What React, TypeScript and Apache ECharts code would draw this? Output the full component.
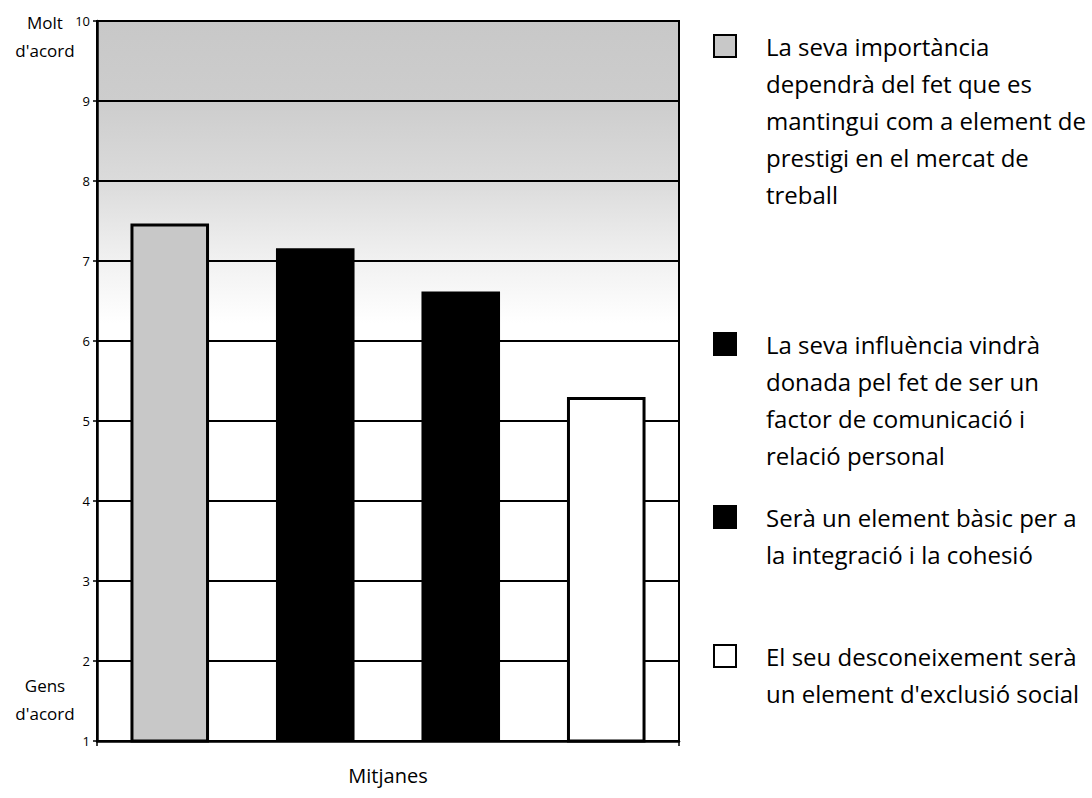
import React, { useEffect, useRef } from "react";
import * as echarts from "echarts";

const categories = [
  "La seva importància dependrà del fet que es mantingui com a element de prestigi en el mercat de treball",
  "La seva influència vindrà donada pel fet de ser un factor de comunicació i relació personal",
  "Serà un element bàsic per a la integració i la cohesió",
  "El seu desconeixement serà un element d'exclusió social",
];
const legendLines = [
  ["La seva importància", "dependrà del fet que es", "mantingui com a element de", "prestigi en el mercat de", "treball"],
  ["La seva influència vindrà", "donada pel fet de ser un", "factor de comunicació i", "relació personal"],
  ["Serà un element bàsic per a", "la integració i la cohesió"],
  ["El seu desconeixement serà", "un element d'exclusió social"],
];
const values = [7.47, 7.16, 6.62, 5.3];
const yTicks = [1, 2, 3, 4, 5, 6, 7, 8, 9, 10];
const xAxisTitle = "Mitjanes";
const topLabel = ["Molt", "d'acord"];
const bottomLabel = ["Gens", "d'acord"];

const FONT = "'Open Sans', 'DejaVu Sans', sans-serif";
const fills = ["#c8c8c8", "#000000", "#000000", "#ffffff"];
const borders = [3, 0, 0, 3];
const legendFirstLineCenters = [45, 343, 516, 655];
const LINE_H = 37;
const SQ = 22;

export default function App() {
  const ref = useRef<HTMLDivElement>(null);
  useEffect(() => {
    if (!ref.current) return;
    const chart = echarts.init(ref.current, undefined, { renderer: "svg" });

    const series = categories.map((name, i) => ({
      type: "bar",
      name,
      stack: "all",
      barWidth: "54%",
      data: values.map((v, j) => (j === i ? v : "-")),
      itemStyle: {
        color: fills[i],
        borderColor: "#000",
        borderWidth: borders[i],
      },
      emphasis: { disabled: true },
    }));

    const legends = categories.map((name, i) => {
      const n = legendLines[i].length;
      const H = LINE_H * n;
      const s0 = LINE_H / 2 - SQ / 2;
      const iconPath = `path://M0,0L0,0M0,${s0}H${SQ}V${s0 + SQ}H0ZM0,${H}L0,${H}`;
      return {
        data: [{ name, icon: iconPath }],
        orient: "vertical",
        left: 713,
        top: legendFirstLineCenters[i] - LINE_H / 2,
        padding: 0,
        itemWidth: SQ,
        itemHeight: H,
        selectedMode: false,
        itemStyle: { borderColor: "#000", borderWidth: 2 },
        formatter: () => legendLines[i].join("\n"),
        textStyle: {
          fontFamily: FONT,
          fontSize: 24,
          lineHeight: LINE_H,
          color: "#000",
          padding: [0, 0, 0, 25],
        },
      };
    });

    const sideText = (lines: string[], y: number) => ({
      type: "text",
      x: 45,
      y,
      style: {
        text: lines.join("\n"),
        fontFamily: FONT,
        fontSize: 17,
        lineHeight: 28,
        fill: "#000",
        align: "center",
        verticalAlign: "top",
      },
    });

    chart.setOption({
      animation: false,
      backgroundColor: "#fff",
      grid: {
        left: 97,
        top: 21,
        width: 582,
        height: 720,
        show: true,
        borderColor: "#000",
        borderWidth: 2,
        backgroundColor: {
          type: "linear",
          x: 0,
          y: 0,
          x2: 0,
          y2: 1,
          colorStops: [
            { offset: 0, color: "#c8c8c8" },
            { offset: 0.111, color: "#cdcdcd" },
            { offset: 0.222, color: "#dbdbdb" },
            { offset: 0.333, color: "#f1f1f1" },
            { offset: 0.42, color: "#ffffff" },
            { offset: 1, color: "#ffffff" },
          ],
        },
      },
      legend: legends,
      xAxis: {
        type: "category",
        data: categories,
        boundaryGap: true,
        name: xAxisTitle,
        nameLocation: "middle",
        nameGap: 24,
        nameTextStyle: { fontFamily: FONT, fontSize: 20, color: "#000" },
        axisLine: { show: true, lineStyle: { color: "#000", width: 2.5 } },
        axisTick: { show: true, length: 5, lineStyle: { color: "#000", width: 1.5 } },
        axisLabel: { show: false },
        splitLine: { show: false },
      },
      yAxis: {
        type: "value",
        min: yTicks[0],
        max: yTicks[yTicks.length - 1],
        interval: 1,
        axisLine: { show: true, lineStyle: { color: "#000", width: 2.5 } },
        axisTick: { show: true, length: 4, lineStyle: { color: "#000", width: 1.5 } },
        axisLabel: { fontFamily: FONT, fontSize: 13, color: "#000", margin: 7 },
        splitLine: { show: true, lineStyle: { color: "#000", width: 1.8 } },
      },
      graphic: [sideText(topLabel, 8), sideText(bottomLabel, 671)],
      series,
    });
    return () => chart.dispose();
  }, []);
  return (
    <div
      ref={ref}
      style={{ position: "fixed", left: 0, top: 0, width: 1092, height: 798 }}
    />
  );
}
